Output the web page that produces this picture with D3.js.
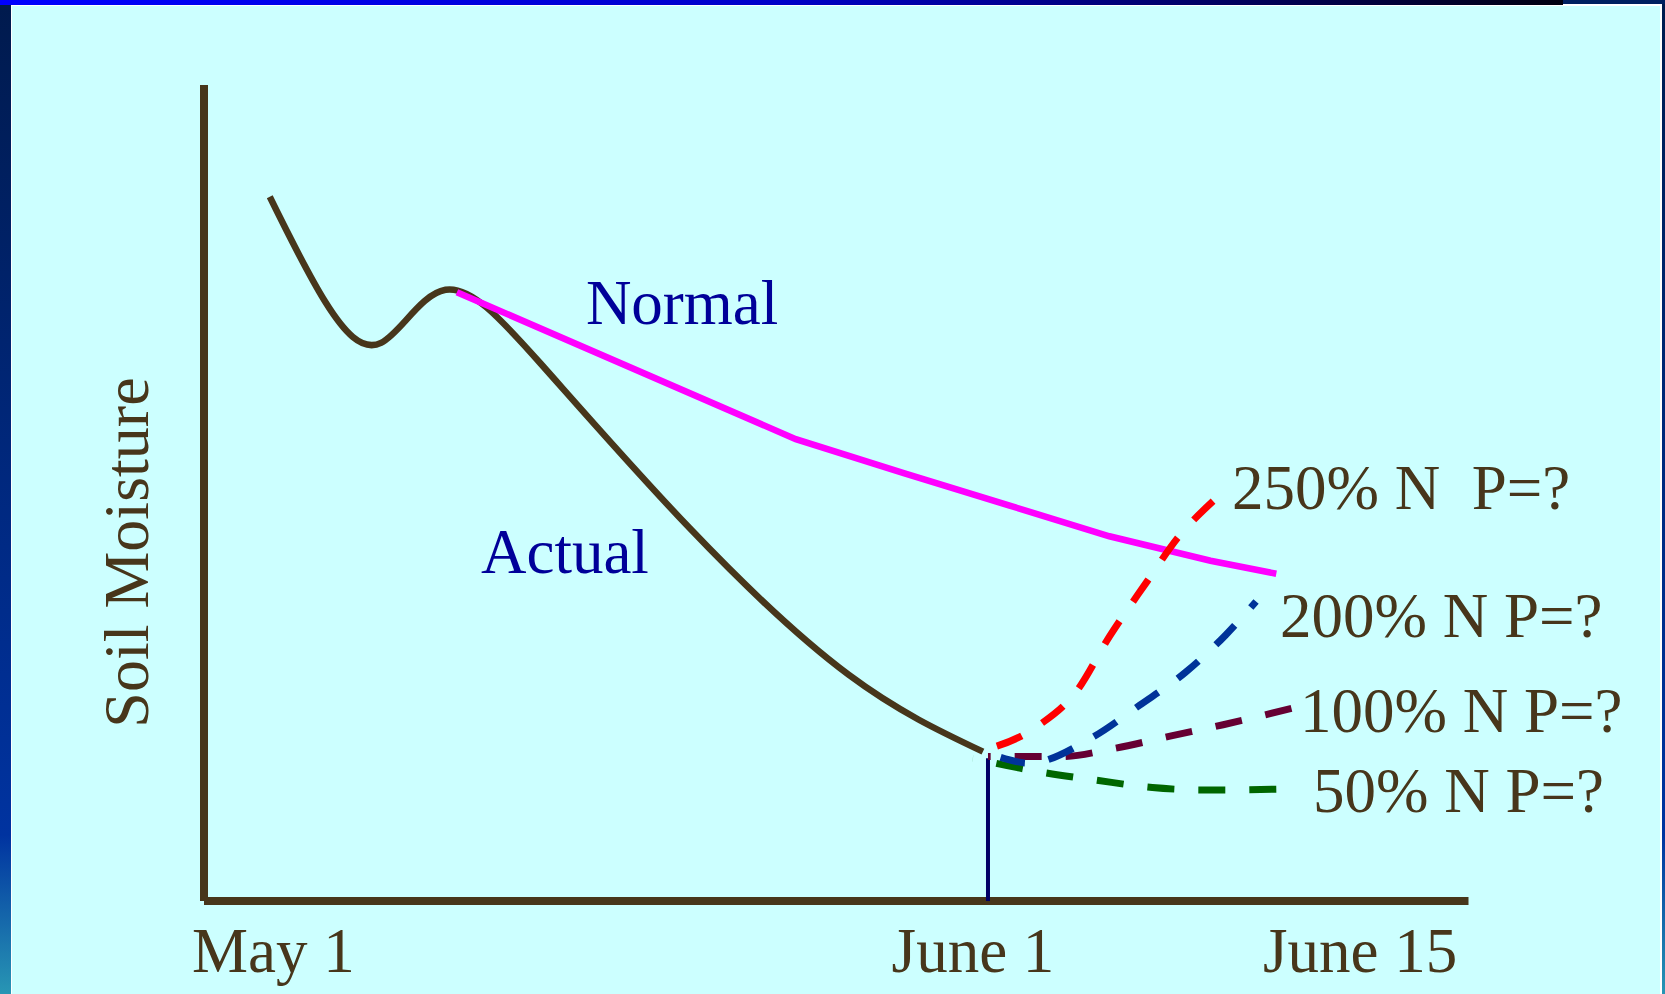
<!DOCTYPE html>
<html>
<head>
<meta charset="utf-8">
<script src="https://cdn.jsdelivr.net/npm/d3@7"></script>
<style>
  html, body { margin: 0; padding: 0; background: #ccffff; overflow: hidden; }
  text { font-family: "Liberation Serif", "Times New Roman", serif; }
</style>
</head>
<body>
<div id="area_chart"></div>
<script>
// days counted from May 1, soil moisture on an arbitrary 0-100 scale
const tickDays = [0, 31, 45];
const tickLabels = ["May 1", "June 1", "June 15"];

const actualDays   = [2.6, 4.8, 7.0, 9.55, 13.3, 19.2, 25.5, 30.8];
const actualValues = [86.3, 73.4, 68.4, 74.9, 65.9, 45.7, 27.7, 18.3];

const normalDays   = [10.0, 23.4, 27.7, 35.8, 39.8, 42.4];
const normalValues = [74.6, 56.6, 52.4, 44.7, 41.7, 40.1];

const n250Days   = [30.5, 32.9, 34.5, 35.8, 37.3, 38.5, 39.9];
const n250Values = [18.2, 21.3, 25.7, 32.4, 39.2, 44.5, 49.0];

const n200Days   = [31.5, 32.6, 35.1, 37.0, 38.8, 40.4, 41.6];
const n200Values = [17.6, 16.9, 20.0, 24.0, 28.0, 32.6, 36.7];

const n100Days   = [31.0, 33.9, 36.0, 38.2, 40.3, 43.0];
const n100Values = [17.7, 17.7, 18.7, 20.2, 21.6, 23.6];

const n50Days   = [30.4, 33.1, 35.3, 37.5, 39.7, 42.4];
const n50Values = [17.5, 15.8, 14.8, 13.9, 13.6, 13.7];

const seriesNames = ["250% N  P=?", "200% N P=?", "100% N P=?", "50% N P=?"];

function drawChart() {
    const width = 1665, height = 994;
    const svg = d3.select("#area_chart").append("svg")
        .attr("width", width)
        .attr("height", height);

    // slide frame
    const defs = svg.append("defs");
    const side = defs.append("linearGradient").attr("id", "side")
        .attr("x1", 0).attr("y1", 0).attr("x2", 0).attr("y2", 1);
    side.append("stop").attr("offset", "0%").attr("stop-color", "#001a4d");
    side.append("stop").attr("offset", "55%").attr("stop-color", "#002a85");
    side.append("stop").attr("offset", "84%").attr("stop-color", "#0033a0");
    side.append("stop").attr("offset", "100%").attr("stop-color", "#2896b4");
    const top = defs.append("linearGradient").attr("id", "top")
        .attr("x1", 0).attr("y1", 0).attr("x2", 1).attr("y2", 0);
    top.append("stop").attr("offset", "0%").attr("stop-color", "#0000ff");
    top.append("stop").attr("offset", "50%").attr("stop-color", "#0000c8");
    top.append("stop").attr("offset", "100%").attr("stop-color", "#000010");

    svg.append("rect").attr("width", width).attr("height", height).attr("fill", "#ffffff");
    svg.append("rect").attr("x", 12).attr("y", 6).attr("width", 1648).attr("height", height - 6).attr("fill", "#ccffff");
    svg.append("rect").attr("x", 0).attr("y", 0).attr("width", 11).attr("height", height).attr("fill", "url(#side)");
    svg.append("rect").attr("x", 1662).attr("y", 0).attr("width", 3).attr("height", height).attr("fill", "url(#side)");
    svg.append("rect").attr("x", 1563).attr("y", 0).attr("width", 102).attr("height", 4).attr("fill", "#002060");
    svg.append("rect").attr("x", 0).attr("y", 0).attr("width", 1563).attr("height", 5).attr("fill", "url(#top)");

    const xScale = d3.scaleLinear().domain([0, 50]).range([204, 1468.5]);
    const yScale = d3.scaleLinear().domain([0, 100]).range([901, 85]);

    const brown = "#47361b";

    // axes
    svg.append("line")
        .attr("x1", xScale(0)).attr("x2", xScale(0))
        .attr("y1", yScale(100)).attr("y2", yScale(0))
        .attr("stroke", brown).attr("stroke-width", 8);
    svg.append("line")
        .attr("x1", xScale(0)).attr("x2", xScale(50))
        .attr("y1", yScale(0)).attr("y2", yScale(0))
        .attr("stroke", brown).attr("stroke-width", 8);

    const tickDx = [-12, -15, 18];
    const tickAnchor = ["start", "middle", "middle"];
    svg.selectAll(".tick-label")
        .data(tickDays)
        .join("text")
        .attr("class", "tick-label")
        .attr("x", (d, i) => xScale(d) + tickDx[i])
        .attr("y", 972)
        .attr("text-anchor", (d, i) => tickAnchor[i])
        .attr("font-size", 63)
        .attr("fill", brown)
        .text((d, i) => tickLabels[i]);

    svg.append("text")
        .attr("transform", "translate(148," + yScale(42.7) + ") rotate(-90)")
        .attr("text-anchor", "middle")
        .attr("font-size", 64)
        .attr("fill", brown)
        .text("Soil Moisture");

    // June 1 marker
    svg.append("line")
        .attr("x1", xScale(31)).attr("x2", xScale(31))
        .attr("y1", yScale(17.5)).attr("y2", yScale(0))
        .attr("stroke", "#000066").attr("stroke-width", 4);

    const zip = (xs, ys) => xs.map((x, i) => [x, ys[i]]);

    const curved = d3.line()
        .x(d => xScale(d[0]))
        .y(d => yScale(d[1]))
        .curve(d3.curveNatural);
    const smooth = d3.line()
        .x(d => xScale(d[0]))
        .y(d => yScale(d[1]))
        .curve(d3.curveMonotoneX);
    const straight = d3.line()
        .x(d => xScale(d[0]))
        .y(d => yScale(d[1]));

    svg.append("path")
        .attr("d", curved(zip(actualDays, actualValues)))
        .attr("fill", "none")
        .attr("stroke", brown)
        .attr("stroke-width", 6.5);

    svg.append("path")
        .attr("d", straight(zip(normalDays, normalValues)))
        .attr("fill", "none")
        .attr("stroke", "#ff00ff")
        .attr("stroke-width", 6.5);

    const scenarios = [
        {days: n50Days, values: n50Values, color: "#006600", label: seriesNames[3], lx: 1313, ly: 812, tail: 27},
        {days: n100Days, values: n100Values, color: "#660033", label: seriesNames[2], lx: 1300, ly: 732, tail: 27},
        {days: n200Days, values: n200Values, color: "#003399", label: seriesNames[1], lx: 1280, ly: 637, tail: 8},
        {days: n250Days, values: n250Values, color: "#ff0000", label: seriesNames[0], lx: 1232, ly: 509, tail: 27}
    ];

    const dash = 27, gap = 24, period = dash + gap;
    scenarios.forEach(s => {
        const path = svg.append("path")
            .attr("d", smooth(zip(s.days, s.values)))
            .attr("fill", "none")
            .attr("stroke", s.color)
            .attr("stroke-width", 7)
            .attr("stroke-dasharray", dash + "," + gap);
        // let each dashed line finish on a dash, as in the slide
        const len = path.node().getTotalLength();
        const offset = (((s.tail - len) % period) + period) % period;
        path.attr("stroke-dashoffset", offset);

        svg.append("text")
            .attr("x", s.lx)
            .attr("y", s.ly)
            .attr("font-size", 63)
            .attr("fill", brown)
            .style("white-space", "pre")
            .text(s.label);
    });

    // curve names
    svg.append("text")
        .attr("x", xScale(15.1)).attr("y", yScale(70.7))
        .attr("font-size", 63).attr("fill", "#000099")
        .text("Normal");
    svg.append("text")
        .attr("x", xScale(10.95)).attr("y", yScale(40.2))
        .attr("font-size", 63).attr("fill", "#000099")
        .text("Actual");
}

drawChart();
</script>
</body>
</html>
